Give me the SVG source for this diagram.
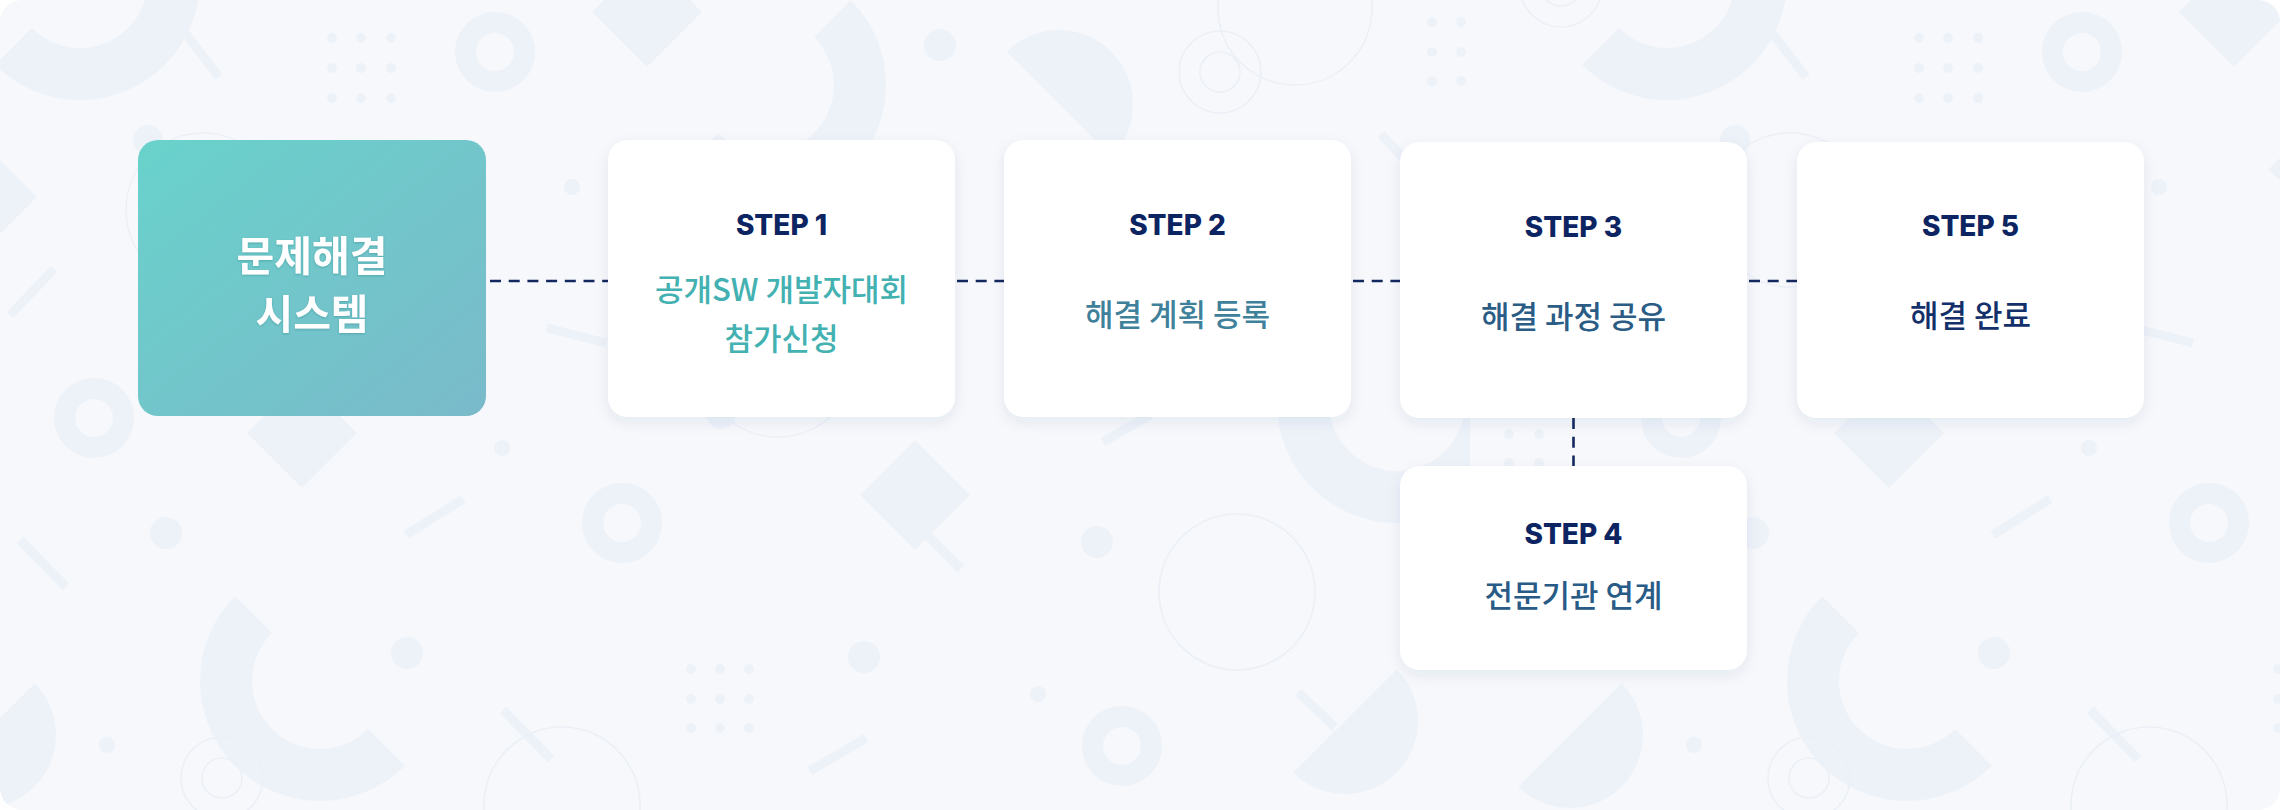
<svg xmlns="http://www.w3.org/2000/svg" xmlns:xlink="http://www.w3.org/1999/xlink" width="2280" height="810" viewBox="0 0 2280 810">
<style>
.bgs{fill:#edf2f9}
.bar{stroke:#edf2f9;stroke-width:9;fill:none}
.ring{fill:none;stroke:#edf2f9;stroke-width:21}
.thin{fill:none;stroke:#ebf0f7;stroke-width:1.6}
.card{fill:#ffffff;filter:url(#shadow)}
.conn{stroke:#13285e;stroke-width:2.6;stroke-dasharray:11 7.7;fill:none}
.step{font-family:Inter,"Open Sans","Liberation Sans",sans-serif;font-weight:800;font-size:28px;fill:#0c2461;text-anchor:middle}
.body{font-family:"Noto Sans CJK KR","Noto Sans",sans-serif;font-weight:500;font-size:31px;text-anchor:middle}
.title{font-family:"Noto Sans CJK KR","Noto Sans",sans-serif;font-weight:700;font-size:41px;fill:#ffffff;text-anchor:middle;filter:url(#tshadow)}
</style>
<defs>
<linearGradient id="mainGrad" x1="0" y1="0" x2="1" y2="1">
<stop offset="0" stop-color="#69d2cb"/>
<stop offset="1" stop-color="#7abaca"/>
</linearGradient>
<filter id="shadow" x="-10%" y="-10%" width="120%" height="130%">
<feDropShadow dx="0" dy="5" stdDeviation="7" flood-color="#2a3b66" flood-opacity="0.08"/>
</filter>
<filter id="tshadow" x="-10%" y="-20%" width="120%" height="150%">
<feDropShadow dx="0" dy="1" stdDeviation="1.2" flood-color="#1f6f73" flood-opacity="0.35"/>
</filter>
<clipPath id="bgClip"><rect x="0" y="0" width="2280" height="810" rx="22"/></clipPath>
<clipPath id="sa4Clip"><rect x="1200" y="380" width="270" height="200"/></clipPath>
<g id="tile">
<path class="bgs" d="M-4.85,64.85 A120,120 0 0 0 164.85,64.85 A120,120 0 0 0 164.85,-104.85 L128.08,-68.08 A68,68 0 0 1 128.08,28.08 A68,68 0 0 1 31.92,28.08 Z"/>
<path class="bgs" d="M235.15,596.15 A120,120 0 0 0 235.15,765.85 A120,120 0 0 0 404.85,765.85 L368.08,729.08 A68,68 0 0 1 271.92,729.08 A68,68 0 0 1 271.92,632.92 Z"/>
<path class="bgs" d="M850.85,0.15 A120,120 0 0 1 850.85,169.85 A120,120 0 0 1 681.15,169.85 L717.92,133.08 A68,68 0 0 0 814.08,133.08 A68,68 0 0 0 814.08,36.92 Z"/>
<path class="bgs" clip-path="url(#sa4Clip)" d="M1277,403 A120,120 0 0 0 1397,523 A120,120 0 0 0 1517,403 L1465,403 A68,68 0 0 1 1397,471 A68,68 0 0 1 1329,403 Z"/>
<path class="bgs" d="M1006.67,51.67 A74,74 0 0 1 1111.33,51.67 A74,74 0 0 1 1111.33,156.33 Z"/>
<path class="bgs" d="M1396.62,669.38 A73,73 0 0 1 1396.62,772.62 A73,73 0 0 1 1293.38,772.62 Z"/>
<path class="bgs" d="M34.62,683.38 A73,73 0 0 1 34.62,786.62 A73,73 0 0 1 -68.62,786.62 Z"/>
<circle class="ring" cx="495" cy="52" r="29.5"/>
<circle class="ring" cx="94" cy="418" r="29.5"/>
<circle class="ring" cx="622" cy="523" r="29.5"/>
<circle class="ring" cx="1122" cy="746" r="29.5"/>
<polygon class="bgs" points="647,-43 702,12 647,67 592,12"/>
<polygon class="bgs" points="-18,142 37,197 -18,252 -73,197"/>
<polygon class="bgs" points="302,378 357,433 302,488 247,433"/>
<polygon class="bgs" points="915,440 970,495 915,550 860,495"/>
<line class="bar" x1="924" y1="532" x2="961" y2="569"/>
<circle class="bgs" cx="940" cy="45" r="16"/>
<circle class="bgs" cx="166" cy="533" r="16"/>
<circle class="bgs" cx="407" cy="653" r="16"/>
<circle class="bgs" cx="864" cy="657" r="16"/>
<circle class="bgs" cx="1097" cy="542" r="16"/>
<circle class="bgs" cx="572" cy="187" r="8"/>
<circle class="bgs" cx="502" cy="448" r="8"/>
<circle class="bgs" cx="107" cy="745" r="8"/>
<circle class="bgs" cx="1038" cy="694" r="8"/>
<circle class="bgs" cx="721" cy="414" r="15"/>
<circle class="bgs" cx="148" cy="140" r="15"/>
<g class="bgs">
<circle cx="332" cy="38" r="5"/><circle cx="361" cy="38" r="5"/><circle cx="391" cy="38" r="5"/>
<circle cx="332" cy="68" r="5"/><circle cx="361" cy="68" r="5"/><circle cx="391" cy="68" r="5"/>
<circle cx="332" cy="98" r="5"/><circle cx="361" cy="98" r="5"/><circle cx="391" cy="98" r="5"/>
<circle cx="691" cy="669" r="5"/><circle cx="720" cy="669" r="5"/><circle cx="749" cy="669" r="5"/>
<circle cx="691" cy="699" r="5"/><circle cx="720" cy="699" r="5"/><circle cx="749" cy="699" r="5"/>
<circle cx="691" cy="728" r="5"/><circle cx="720" cy="728" r="5"/><circle cx="749" cy="728" r="5"/>
<circle cx="1432" cy="22" r="5"/><circle cx="1461" cy="22" r="5"/>
<circle cx="1432" cy="52" r="5"/><circle cx="1461" cy="52" r="5"/>
<circle cx="1432" cy="81" r="5"/><circle cx="1461" cy="81" r="5"/>
<circle cx="1509" cy="434" r="5"/><circle cx="1539" cy="434" r="5"/>
<circle cx="1509" cy="463" r="5"/><circle cx="1539" cy="463" r="5"/>
</g>
<line class="bar" x1="186" y1="34" x2="219" y2="77"/>
<line class="bar" x1="54" y1="269" x2="10" y2="315"/>
<line class="bar" x1="547" y1="328" x2="606" y2="343"/>
<line class="bar" x1="406" y1="535" x2="463" y2="499"/>
<line class="bar" x1="20" y1="540" x2="66" y2="587"/>
<line class="bar" x1="503" y1="710" x2="551" y2="759"/>
<line class="bar" x1="810" y1="771" x2="866" y2="738"/>
<line class="bar" x1="1381" y1="134" x2="1410" y2="165"/>
<line class="bar" x1="1103" y1="442" x2="1150" y2="415"/>
<line class="bar" x1="1298" y1="692" x2="1335" y2="727"/>
<circle class="thin" cx="1220" cy="72" r="41"/>
<circle class="thin" cx="1220" cy="72" r="20"/>
<circle class="thin" cx="1295" cy="8" r="77"/>
<circle class="thin" cx="1561" cy="-14" r="41"/>
<circle class="thin" cx="1561" cy="-14" r="20"/>
<circle class="thin" cx="1237" cy="592" r="78"/>
<circle class="thin" cx="222" cy="778" r="41"/>
<circle class="thin" cx="222" cy="778" r="20"/>
<circle class="thin" cx="562" cy="805" r="78"/>
<circle class="thin" cx="778" cy="360" r="77"/>
<circle class="thin" cx="203" cy="210" r="77"/>
</g>
</defs>

<rect x="0" y="0" width="2280" height="810" fill="#ffffff"/>
<rect x="0" y="0" width="2280" height="810" rx="22" fill="#f6f8fb"/>
<g id="background-pattern" clip-path="url(#bgClip)">
<use xlink:href="#tile" href="#tile"/>
<use xlink:href="#tile" href="#tile" x="1587"/>
</g>

<g id="connectors">
<line class="conn" x1="490" y1="281" x2="608" y2="281"/>
<line class="conn" x1="957" y1="281" x2="1004" y2="281"/>
<line class="conn" x1="1353" y1="281" x2="1400" y2="281"/>
<line class="conn" x1="1749" y1="281" x2="1797" y2="281"/>
<line class="conn" x1="1573.5" y1="418" x2="1573.5" y2="466"/>
</g>

<g id="node-main">
<rect x="138" y="140" width="348" height="276" rx="20" fill="url(#mainGrad)"/>
<text class="title" x="312" y="271">문제해결</text>
<text class="title" x="312" y="329">시스템</text>
</g>

<g id="node-step1">
<rect class="card" x="608" y="140" width="347" height="277" rx="20"/>
<text class="step" x="781.5" y="235">STEP 1</text>
<text class="body" x="781.5" y="301" fill="#43b1b1">공개SW 개발자대회</text>
<text class="body" x="781.5" y="350" fill="#43b1b1">참가신청</text>
</g>

<g id="node-step2">
<rect class="card" x="1004" y="140" width="347" height="277" rx="20"/>
<text class="step" x="1177.5" y="235">STEP 2</text>
<text class="body" x="1177.5" y="326" fill="#3f819b">해결 계획 등록</text>
</g>

<g id="node-step3">
<rect class="card" x="1400" y="142" width="347" height="276" rx="20"/>
<text class="step" x="1573.5" y="237">STEP 3</text>
<text class="body" x="1573.5" y="328" fill="#2a5c86">해결 과정 공유</text>
</g>

<g id="node-step5">
<rect class="card" x="1797" y="142" width="347" height="276" rx="20"/>
<text class="step" x="1970.5" y="236">STEP 5</text>
<text class="body" x="1970.5" y="327" fill="#13306a">해결 완료</text>
</g>

<g id="node-step4">
<rect class="card" x="1400" y="466" width="347" height="204" rx="20"/>
<text class="step" x="1573.5" y="544">STEP 4</text>
<text class="body" x="1573.5" y="607" fill="#285b86">전문기관 연계</text>
</g>
</svg>
